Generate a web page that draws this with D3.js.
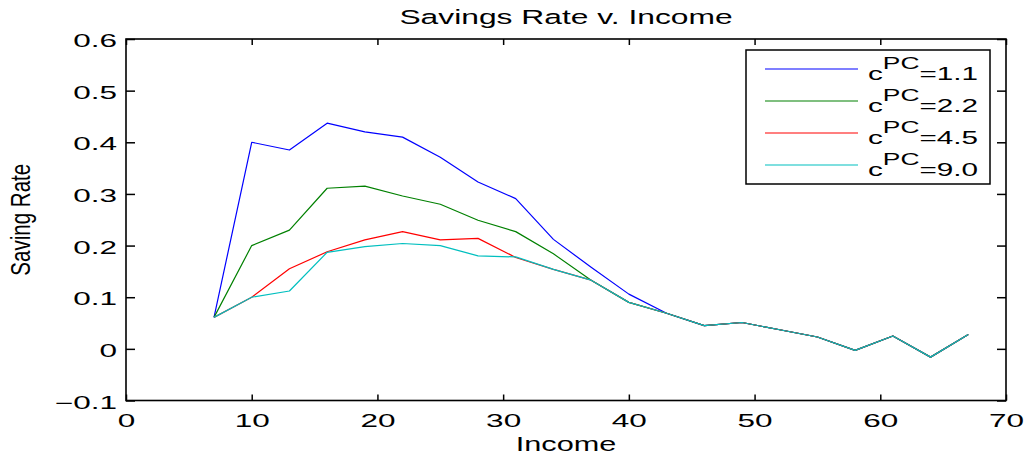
<!DOCTYPE html>
<html>
<head>
<meta charset="utf-8">
<script src="https://cdn.jsdelivr.net/npm/d3@7"></script>
<style>
  html, body { margin: 0; padding: 0; background: #fff; }
  svg { display: block; }
  text { font-family: "Liberation Sans", Arial, Helvetica, sans-serif; fill: #000; }
</style>
</head>
<body>
<svg id="chart" width="1028" height="460"></svg>
<script>
// Income levels (x) shared by every series
const income = [7, 10, 13, 16, 19, 22, 25, 28, 31, 34, 37, 40, 43, 46, 49, 52, 55, 58, 61, 64, 67];

// Saving rate for each consumption parameter c^PC
const rate11 = [0.061, 0.400, 0.385, 0.437, 0.420, 0.410, 0.371, 0.323, 0.291, 0.212, 0.158, 0.106, 0.069, 0.045, 0.051, 0.037, 0.023, -0.003, 0.025, -0.016, 0.028];
const rate22 = [0.061, 0.200, 0.230, 0.311, 0.315, 0.296, 0.280, 0.249, 0.227, 0.184, 0.133, 0.090, 0.069, 0.045, 0.051, 0.037, 0.023, -0.003, 0.025, -0.016, 0.028];
const rate45 = [0.061, 0.100, 0.155, 0.188, 0.211, 0.227, 0.211, 0.214, 0.177, 0.154, 0.133, 0.090, 0.069, 0.045, 0.051, 0.037, 0.023, -0.003, 0.025, -0.016, 0.028];
const rate90 = [0.061, 0.100, 0.112, 0.187, 0.198, 0.204, 0.200, 0.180, 0.178, 0.154, 0.133, 0.090, 0.069, 0.045, 0.051, 0.037, 0.023, -0.003, 0.025, -0.016, 0.028];

const seriesNames = ["1.1", "2.2", "4.5", "9.0"];
const seriesValues = [rate11, rate22, rate45, rate90];
const seriesColors = ["#0000ff", "#008000", "#ff0000", "#00bfbf"];

// Axis ticks and labels
const xTicks = [0, 10, 20, 30, 40, 50, 60, 70];
const xTickLabels = ["0", "10", "20", "30", "40", "50", "60", "70"];
const yTicks = [-0.1, 0, 0.1, 0.2, 0.3, 0.4, 0.5, 0.6];
const yTickLabels = ["\u22120.1", "0", "0.1", "0.2", "0.3", "0.4", "0.5", "0.6"];

const titleText = "Savings Rate v. Income";
const xLabelText = "Income";
const yLabelText = "Saving Rate";

// Layout
const plot = { left: 126, right: 1006, top: 39, bottom: 400.5 };
const svg = d3.select("#chart");

const x = d3.scaleLinear().domain([0, 70]).range([plot.left, plot.right]);
const y = d3.scaleLinear().domain([-0.1, 0.6]).range([plot.bottom, plot.top]);

const tickFont = 17.5;
const tickStretch = 1.8;

// Data lines
const line = d3.line().x((d, i) => x(income[i])).y(d => y(d));
svg.append("g")
  .selectAll("path")
  .data(seriesValues)
  .join("path")
  .attr("d", d => line(d))
  .attr("fill", "none")
  .attr("stroke", (d, i) => seriesColors[i])
  .attr("stroke-width", 1.2)
  .attr("stroke-linejoin", "round");

// Axes with inward ticks on all four sides
function styleAxis(g) {
  g.select(".domain").remove();
  g.selectAll(".tick line").attr("stroke", "#000").attr("stroke-width", 1.5);
  g.selectAll(".tick text")
    .style("font-size", tickFont + "px")
    .style("font-family", '"Liberation Sans", Arial, sans-serif')
    .attr("fill", "#000");
}

const xFmt = d => xTickLabels[xTicks.indexOf(d)];
const yFmt = d => yTickLabels[yTicks.findIndex(v => Math.abs(v - d) < 1e-9)];

const gBottom = svg.append("g")
  .attr("transform", `translate(0,${plot.bottom})`)
  .call(d3.axisBottom(x).tickValues(xTicks).tickFormat(xFmt).tickSize(-6).tickPadding(14))
  .call(styleAxis);
gBottom.selectAll(".tick text").attr("transform", `scale(${tickStretch},1)`);

svg.append("g")
  .attr("transform", `translate(0,${plot.top})`)
  .call(d3.axisTop(x).tickValues(xTicks).tickFormat("").tickSize(-6))
  .call(styleAxis);

const gLeft = svg.append("g")
  .attr("transform", `translate(${plot.left},0)`)
  .call(d3.axisLeft(y).tickValues(yTicks).tickFormat(yFmt).tickSize(-9).tickPadding(9))
  .call(styleAxis);
gLeft.selectAll(".tick text")
  .attr("x", -9 / tickStretch)
  .attr("dy", "0.44em")
  .attr("transform", `scale(${tickStretch},1)`);

svg.append("g")
  .attr("transform", `translate(${plot.right},0)`)
  .call(d3.axisRight(y).tickValues(yTicks).tickFormat("").tickSize(-9))
  .call(styleAxis);

// Plot frame
svg.append("rect")
  .attr("x", plot.left).attr("y", plot.top)
  .attr("width", plot.right - plot.left).attr("height", plot.bottom - plot.top)
  .attr("fill", "none").attr("stroke", "#000").attr("stroke-width", 1.6);

// Title and axis labels
const cx = (plot.left + plot.right) / 2;
svg.append("text")
  .attr("transform", `translate(${cx},24) scale(1.63,1)`)
  .attr("text-anchor", "middle")
  .style("font-size", "19.5px")
  .text(titleText);

svg.append("text")
  .attr("transform", `translate(${cx},450.5) scale(1.46,1)`)
  .attr("text-anchor", "middle")
  .style("font-size", "21px")
  .text(xLabelText);

svg.append("text")
  .attr("transform", `translate(30,${(plot.top + plot.bottom) / 2}) rotate(-90) scale(0.98,1.3)`)
  .attr("text-anchor", "middle")
  .style("font-size", "21px")
  .text(yLabelText);

// Legend
const legend = svg.append("g");
legend.append("rect")
  .attr("x", 746).attr("y", 50).attr("width", 244).attr("height", 134)
  .attr("fill", "#fff").attr("stroke", "#000").attr("stroke-width", 1.5);

const rowY = i => 80 + i * 32;
seriesNames.forEach((name, i) => {
  legend.append("line")
    .attr("x1", 765).attr("x2", 858)
    .attr("y1", rowY(i) - 11).attr("y2", rowY(i) - 11)
    .attr("stroke", seriesColors[i]).attr("stroke-width", 1.2);
  const t = legend.append("text")
    .attr("transform", `translate(868,${rowY(i)}) scale(1.65,1)`)
    .style("font-size", "18px");
  t.append("tspan").text("c");
  t.append("tspan").attr("dy", -10.7).style("font-size", "16px").text("PC");
  t.append("tspan").attr("dy", 10.7).text("=" + name);
});
</script>
</body>
</html>
